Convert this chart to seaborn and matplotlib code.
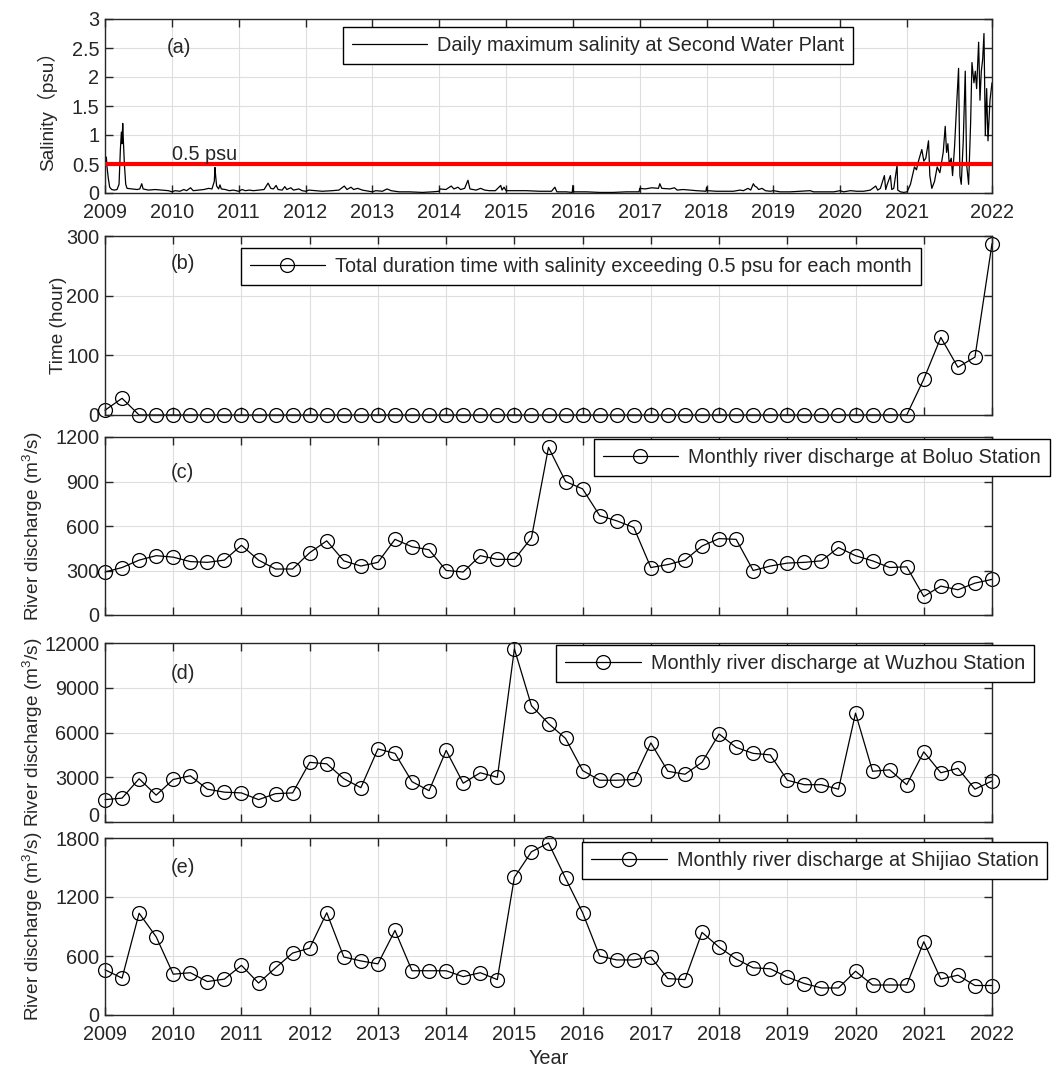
import numpy as np
import pandas as pd
import matplotlib
matplotlib.use('Agg')
import matplotlib.pyplot as plt
import seaborn as sns

# daily maximum salinity (decimal year, psu)
sal_year = [2009.00, 2009.01, 2009.02, 2009.03, 2009.05, 2009.07, 2009.10, 2009.14, 2009.18, 2009.21,
            2009.23, 2009.245, 2009.255, 2009.265, 2009.275, 2009.29, 2009.31, 2009.33, 2009.40, 2009.48,
            2009.52, 2009.55, 2009.57, 2009.65, 2009.75, 2009.85, 2009.95, 2010.00, 2010.05, 2010.12,
            2010.18, 2010.22, 2010.28, 2010.32, 2010.40, 2010.48, 2010.55, 2010.60, 2010.635, 2010.645,
            2010.655, 2010.67, 2010.70, 2010.72, 2010.74, 2010.80, 2010.86, 2010.92, 2011.00, 2011.05,
            2011.10, 2011.16, 2011.22, 2011.30, 2011.38, 2011.44, 2011.48, 2011.52, 2011.56, 2011.59,
            2011.65, 2011.69, 2011.72, 2011.78, 2011.82, 2011.90, 2011.95, 2012.00, 2012.05, 2012.15,
            2012.25, 2012.40, 2012.50, 2012.58, 2012.62, 2012.68, 2012.72, 2012.78, 2012.85, 2012.95,
            2013.00, 2013.05, 2013.15, 2013.22, 2013.28, 2013.40, 2013.55, 2013.75, 2013.90, 2014.00,
            2014.01, 2014.10, 2014.18, 2014.22, 2014.28, 2014.32, 2014.38, 2014.43, 2014.46, 2014.55,
            2014.62, 2014.68, 2014.75, 2014.84, 2014.92, 2014.94, 2014.97, 2015.00, 2015.10, 2015.30,
            2015.50, 2015.68, 2015.73, 2015.76, 2015.90, 2015.99, 2016.00, 2016.01, 2016.20, 2016.40,
            2016.60, 2016.80, 2016.99, 2017.00, 2017.08, 2017.18, 2017.28, 2017.30, 2017.33, 2017.45,
            2017.52, 2017.56, 2017.65, 2017.75, 2017.85, 2017.99, 2018.00, 2018.01, 2018.15, 2018.30,
            2018.40, 2018.50, 2018.55, 2018.62, 2018.66, 2018.70, 2018.72, 2018.75, 2018.78, 2018.83,
            2018.88, 2018.95, 2019.00, 2019.10, 2019.25, 2019.40, 2019.55, 2019.60, 2019.75, 2019.90,
            2020.00, 2020.05, 2020.15, 2020.25, 2020.35, 2020.45, 2020.53, 2020.56, 2020.60, 2020.66,
            2020.68, 2020.70, 2020.75, 2020.77, 2020.80, 2020.85, 2020.86, 2020.90, 2020.95, 2021.00,
            2021.05, 2021.08, 2021.11, 2021.14, 2021.17, 2021.22, 2021.25, 2021.28, 2021.32, 2021.34,
            2021.37, 2021.41, 2021.45, 2021.49, 2021.54, 2021.57, 2021.59, 2021.61, 2021.63, 2021.66,
            2021.68, 2021.71, 2021.74, 2021.77, 2021.79, 2021.81, 2021.84, 2021.87, 2021.89, 2021.92,
            2021.95, 2021.97, 2022.00, 2022.02, 2022.04, 2022.07, 2022.09, 2022.11, 2022.13, 2022.15,
            2022.17, 2022.19, 2022.21, 2022.24, 2022.27]
sal_psu = [0.66, 0.55, 0.62, 0.45, 0.25, 0.10, 0.06, 0.05, 0.06, 0.15,
           0.75, 1.05, 0.85, 1.20, 0.90, 0.50, 0.15, 0.08, 0.07, 0.06,
           0.07, 0.16, 0.07, 0.05, 0.06, 0.05, 0.04, 0.02, 0.04, 0.03,
           0.06, 0.04, 0.09, 0.04, 0.05, 0.06, 0.08, 0.07, 0.20, 0.44,
           0.30, 0.12, 0.07, 0.14, 0.07, 0.06, 0.04, 0.05, 0.03, 0.06,
           0.04, 0.05, 0.04, 0.05, 0.06, 0.17, 0.08, 0.07, 0.13, 0.06,
           0.05, 0.11, 0.06, 0.09, 0.05, 0.07, 0.04, 0.03, 0.05, 0.04,
           0.03, 0.04, 0.05, 0.12, 0.06, 0.10, 0.06, 0.08, 0.05, 0.03,
           0.02, 0.04, 0.03, 0.07, 0.04, 0.02, 0.02, 0.01, 0.02, 0.03,
           0.07, 0.06, 0.12, 0.07, 0.10, 0.06, 0.08, 0.22, 0.07, 0.05,
           0.08, 0.05, 0.04, 0.04, 0.13, 0.05, 0.10, 0.04, 0.04, 0.04,
           0.03, 0.03, 0.10, 0.02, 0.02, 0.01, 0.13, 0.02, 0.02, 0.01,
           0.01, 0.02, 0.02, 0.08, 0.07, 0.09, 0.08, 0.16, 0.08, 0.07,
           0.09, 0.05, 0.06, 0.05, 0.04, 0.03, 0.10, 0.04, 0.03, 0.03,
           0.03, 0.05, 0.04, 0.08, 0.05, 0.16, 0.12, 0.10, 0.06, 0.08,
           0.04, 0.03, 0.04, 0.02, 0.02, 0.03, 0.04, 0.02, 0.02, 0.02,
           0.04, 0.02, 0.04, 0.03, 0.03, 0.05, 0.12, 0.05, 0.08, 0.30,
           0.06, 0.14, 0.30, 0.06, 0.08, 0.48, 0.05, 0.02, 0.01, 0.02,
           0.15, 0.30, 0.45, 0.40, 0.55, 0.75, 0.55, 0.60, 0.90, 0.30,
           0.08, 0.20, 0.45, 0.35, 0.70, 1.15, 0.70, 0.85, 0.50, 0.60,
           0.30, 0.80, 1.50, 2.15, 0.30, 0.15, 0.90, 2.10, 0.50, 0.15,
           1.20, 2.25, 1.90, 2.10, 1.80, 2.60, 1.60, 2.10, 2.30, 2.75,
           1.00, 1.80, 0.90, 1.60, 1.90]

# quarterly series 2009.00 ... 2022.00
quarters = np.arange(2009, 2022.01, 0.25)
hours_over = [8, 28, 0, 0, 0, 0, 0, 0, 0, 0, 0, 0, 0, 0, 0, 0, 0, 0, 0, 0, 0, 0, 0, 0, 0, 0,
              0, 0, 0, 0, 0, 0, 0, 0, 0, 0, 0, 0, 0, 0, 0, 0, 0, 0, 0, 0, 0, 0,
              60, 130, 80, 97, 287]
boluo_q = [290, 320, 370, 400, 390, 360, 355, 370, 470, 370, 310, 310, 420, 500, 365, 330,
           355, 510, 460, 440, 300, 290, 400, 375, 375, 520, 1130, 900, 850, 670, 635, 590,
           320, 340, 370, 465, 515, 510, 300, 330, 350, 355, 365, 455, 400, 365, 320, 325,
           125, 195, 170, 215, 240]
wuzhou_q = [1500, 1600, 2900, 1800, 2850, 3100, 2200, 2000, 1950, 1500, 1900, 1950,
            4000, 3900, 2900, 2300, 4900, 4600, 2700, 2100, 4800, 2600, 3300, 3000,
            11600, 7800, 6600, 5600, 3450, 2800, 2800, 2850, 5300, 3400, 3200, 4000,
            5900, 5000, 4600, 4500, 2800, 2500, 2500, 2200, 7300, 3400, 3500, 2500,
            4700, 3300, 3600, 2200, 2750]
shijiao_q = [460, 375, 1035, 795, 415, 430, 340, 365, 505, 325, 480, 630,
             680, 1040, 590, 550, 520, 860, 450, 450, 450, 390, 430, 360,
             1400, 1660, 1750, 1390, 1040, 600, 560, 560, 590, 370, 360, 840,
             690, 570, 480, 470, 385, 320, 275, 275, 445, 305, 305, 305,
             745, 365, 405, 300, 300]

years = list(range(2009, 2023))

FS = 14.3
FS_LAB = 13.7

sns.set_style('ticks')
plt.rcParams['font.family'] = ['Liberation Sans', 'Noto Sans CJK SC']
plt.rcParams['font.size'] = FS
plt.rcParams['mathtext.fontset'] = 'custom'
plt.rcParams['mathtext.rm'] = 'Liberation Sans'
plt.rcParams['mathtext.it'] = 'Liberation Sans'

W, H = 1054, 1071
fig = plt.figure(figsize=(W / 100, H / 100), dpi=100)


def px_axes(top, bottom, left=105, right=992):
    return fig.add_axes([left / W, 1 - bottom / H, (right - left) / W, (bottom - top) / H])


def style(ax, ymax, ystep):
    ax.set_ylim(0, ymax)
    ax.set_yticks(np.arange(0, ymax + 1e-9, ystep))
    ax.yaxis.set_major_formatter(plt.FuncFormatter(lambda v, _: f'{v:g}'))
    ax.set_axisbelow(True)
    ax.grid(True, color='0.87', lw=0.8)
    ax.tick_params(direction='in', length=6, width=1, top=True, right=True,
                   color='0.15', labelsize=FS, pad=4)
    ax.tick_params(axis='x', pad=7)
    for s in ax.spines.values():
        s.set_color('0.15')
        s.set_linewidth(1)
    ax.set_xlabel('')


def add_legend(ax, x, y):
    leg = ax.legend(loc='upper left', bbox_to_anchor=(x, y), borderaxespad=0,
                    fancybox=False, edgecolor='k', framealpha=1, fontsize=FS,
                    handlelength=3.8, handletextpad=0.5, borderpad=0.45)
    leg.get_frame().set_linewidth(1)


def station_plot(ax, vals, label):
    df = pd.DataFrame({'year': quarters, 'value': vals})
    sns.lineplot(data=df, x='year', y='value', ax=ax, color='k', lw=0.9, marker='o',
                 markersize=10, markerfacecolor='none', markeredgecolor='k',
                 markeredgewidth=0.9, clip_on=False, label=label)


# (a) salinity
ax = px_axes(19, 193)
sal_df = pd.DataFrame({'year': sal_year, 'psu': sal_psu})
sns.lineplot(data=sal_df, x='year', y='psu', ax=ax, color='k', lw=0.9,
             label='Daily maximum salinity at Second Water Plant')
ax.axhline(0.5, color='red', lw=3, zorder=3)
style(ax, 3, 0.5)
ax.set_xlim(2009, 2022.27)
ax.set_xticks(years[:-1] + [2022.27])
ax.set_xticklabels([str(y) for y in years])
ax.set_ylabel('Salinity（psu）', fontsize=FS_LAB)
ax.yaxis.set_label_coords(-0.054, 0.5)
ax.text(2010.0, 0.57, '0.5 psu', fontsize=FS, va='baseline')
ax.text(0.070, 0.839, '(a)', transform=ax.transAxes, va='center', fontsize=FS)
add_legend(ax, 0.268, 0.954)

# (b) exceedance hours
ax = px_axes(236, 415)
station_plot(ax, hours_over, 'Total duration time with salinity exceeding 0.5 psu for each month')
style(ax, 300, 100)
ax.set_xlim(2009, 2022)
ax.set_xticks(years)
ax.tick_params(labelbottom=False)
ax.set_ylabel('Time (hour)', fontsize=FS_LAB)
ax.yaxis.set_label_coords(-0.043, 0.5)
ax.text(0.074, 0.849, '(b)', transform=ax.transAxes, va='center', fontsize=FS)
add_legend(ax, 0.153, 0.933)

# (c) Boluo
ax = px_axes(437, 615)
station_plot(ax, boluo_q, 'Monthly river discharge at Boluo Station')
style(ax, 1200, 300)
ax.set_xlim(2009, 2022)
ax.set_xticks(years)
ax.tick_params(labelbottom=False)
ax.set_ylabel('River discharge (m$^3$/s)', fontsize=FS_LAB)
ax.yaxis.set_label_coords(-0.068, 0.5)
ax.text(0.074, 0.803, '(c)', transform=ax.transAxes, va='center', fontsize=FS)
add_legend(ax, 0.551, 0.989)

# (d) Wuzhou
ax = px_axes(643, 822)
station_plot(ax, wuzhou_q, 'Monthly river discharge at Wuzhou Station')
style(ax, 12000, 3000)
ax.set_xlim(2009, 2022)
ax.set_xticks(years)
ax.tick_params(labelbottom=False)
ax.get_yticklabels()[0].set_va('baseline')  # keep "0" clear of the 1800 below
ax.set_ylabel('River discharge (m$^3$/s)', fontsize=FS_LAB)
ax.yaxis.set_label_coords(-0.068, 0.5)
ax.text(0.074, 0.832, '(d)', transform=ax.transAxes, va='center', fontsize=FS)
add_legend(ax, 0.509, 0.989)

# (e) Shijiao
ax = px_axes(838, 1015)
station_plot(ax, shijiao_q, 'Monthly river discharge at Shijiao Station')
style(ax, 1800, 600)
ax.set_xlim(2009, 2022)
ax.set_xticks(years)
ax.set_ylabel('River discharge (m$^3$/s)', fontsize=FS_LAB)
ax.yaxis.set_label_coords(-0.068, 0.5)
ax.set_xlabel('Year', fontsize=FS)
ax.xaxis.set_label_coords(0.5, -0.19)
ax.text(0.074, 0.836, '(e)', transform=ax.transAxes, va='center', fontsize=FS)
add_legend(ax, 0.538, 0.977)

fig.savefig('out.png', dpi=100)
